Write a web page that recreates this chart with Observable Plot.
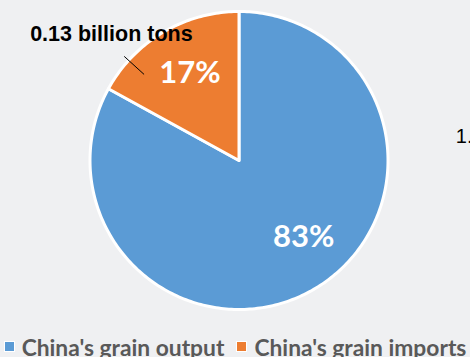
<!DOCTYPE html>
<html><head><meta charset="utf-8">
<script src="https://cdn.jsdelivr.net/npm/d3@7"></script>
<script src="https://cdn.jsdelivr.net/npm/@observablehq/plot@0.6"></script>
<style>
html,body{margin:0;padding:0;background:#eff0f2;width:470px;height:357px;overflow:hidden}
#legend{display:flex;justify-content:center;align-items:center;height:27px;font-family:Lato,sans-serif;font-weight:bold;font-size:22.8px;color:#595959;white-space:nowrap}
.item{display:flex;align-items:center;margin:0 6px}
.sw{width:9px;height:9px;border:1px solid #fff;margin-right:7px}
</style></head><body><div id="chart"></div><div id="legend"></div>
<script>
const categories = ["China's grain output", "China's grain imports"];
const shares = [83, 17];
const colors = ["#5B9BD5", "#ED7D31"];
const calloutLabels = ["1.", "0.13 billion tons"];

const arcs = d3.pie().sort(null).startAngle(0).endAngle(2 * Math.PI)(shares);
const slices = arcs.map((p, i) => ({
  name: categories[i], value: shares[i], callout: calloutLabels[i],
  a0: p.startAngle, a1: p.endAngle, mid: (p.startAngle + p.endAngle) / 2
}));
const points = [];
for (const s of slices) {
  points.push({name: s.name, x: 0, y: 0});
  const n = Math.ceil((s.a1 - s.a0) / (Math.PI / 180));
  for (let k = 0; k <= n; k++) {
    const a = s.a0 + (s.a1 - s.a0) * k / n;
    points.push({name: s.name, x: Math.sin(a), y: Math.cos(a)});
  }
}
const big = slices.filter(d => d.value > 50);
const small = slices.filter(d => d.value <= 50);
const labelAngle = d => d.value > 50 ? d.mid - 0.17 : d.mid + 0.02;
const leaderAngle = d => d.mid - 0.30;

const chart = Plot.plot({
  width: 470, height: 333, margin: 0,
  x: {domain: [-1, 1], range: [89.5, 387.5], axis: null},
  y: {domain: [-1, 1], range: [309, 11], axis: null},
  color: {domain: categories, range: colors},
  style: {background: "transparent", overflow: "hidden"},
  marks: [
    Plot.line(points, {x: "x", y: "y", z: "name", fill: "name", stroke: "#fff", strokeWidth: 3, curve: "linear-closed", strokeLinejoin: "round"}),
    Plot.text(slices, {x: d => 0.67 * Math.sin(labelAngle(d)), y: d => 0.67 * Math.cos(labelAngle(d)), text: d => d.value + "%", fill: "#fff", fontSize: 31, fontWeight: "bold", fontFamily: "Lato"}),
    Plot.link(small, {x1: d => 0.86 * Math.sin(leaderAngle(d)), y1: d => 0.86 * Math.cos(leaderAngle(d)), x2: d => 1.04 * Math.sin(leaderAngle(d)), y2: d => 1.04 * Math.cos(leaderAngle(d)), stroke: "#000", strokeWidth: 1}),
    Plot.text(small, {x: d => Math.sin(d.mid), y: d => Math.cos(d.mid), text: "callout", textAnchor: "start", dx: -133, dy: 1.5, fontSize: 21.5, fontWeight: "bold", fontFamily: "Liberation Sans", fill: "#000"}),
    Plot.text(big, {x: d => Math.sin(d.mid), y: d => Math.cos(d.mid), text: "callout", textAnchor: "start", dx: 141, dy: -151.7, fontSize: 20, fontFamily: "Liberation Sans", fill: "#000"})
  ]
});
document.getElementById("chart").appendChild(chart);

const legend = document.getElementById("legend");
categories.forEach((c, i) => {
  const item = document.createElement("div"); item.className = "item";
  const sw = document.createElement("div"); sw.className = "sw"; sw.style.background = colors[i];
  const t = document.createElement("span"); t.textContent = c;
  item.appendChild(sw); item.appendChild(t); legend.appendChild(item);
});
</script></body></html>
